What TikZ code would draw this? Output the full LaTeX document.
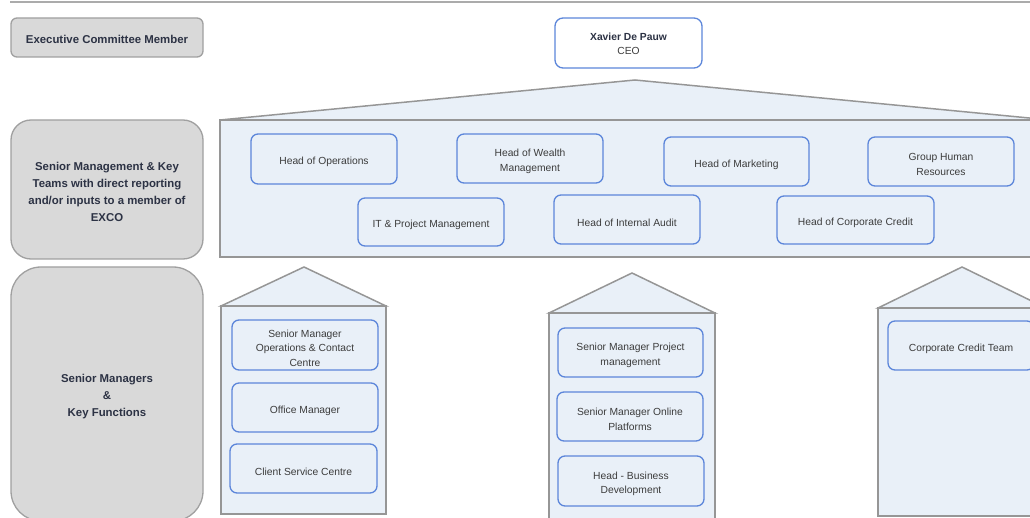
\documentclass[tikz,border=0pt]{standalone}
\usepackage{fontspec}
\setmainfont{Liberation Sans}
\definecolor{lblfill}{RGB}{217,217,217}
\definecolor{lblline}{RGB}{160,160,160}
\definecolor{lbltext}{RGB}{44,50,68}
\definecolor{panelfill}{RGB}{233,240,248}
\definecolor{panelline}{RGB}{150,150,150}
\definecolor{roleline}{RGB}{92,134,218}
\definecolor{roletext}{RGB}{60,60,60}
\begin{document}
\begin{tikzpicture}[x=1pt,y=-1pt,
  % boxes carry their caption as a centred label, set slightly low
  lbltxt/.style={text=lbltext, font=\fontsize{11.4}{17}\selectfont\bfseries,
    align=center, inner sep=0pt, yshift=-2pt},
  roletxt/.style={text=roletext, font=\fontsize{10.3}{14.5}\selectfont,
    align=center, inner sep=0pt, yshift=-3pt},
  labelbox/.style={draw=lblline, fill=lblfill, line width=1.3pt, inner sep=0pt,
    label={[lbltxt]center:#1}},
  rolebox/.style={draw=roleline, fill=panelfill, line width=1.3pt, rounded corners=7pt,
    inner sep=0pt, label={[roletxt]center:#1}},
  panel/.style={draw=panelline, fill=panelfill, line width=1.5pt, line join=miter}]
\useasboundingbox (0,0) rectangle (1030,518);
\begin{scope}
\clip (0,0) rectangle (1030,518);

% rule along the top
\draw[panelline!80, line width=1.2pt] (10,2) -- (1030,2);

% row labels
\node[labelbox={Executive Committee Member}, rounded corners=6pt,
  minimum width=192pt, minimum height=39pt] (exco) at (107,37.5) {};
\node[labelbox={Senior Management \& Key\\Teams with direct reporting\\and/or inputs to a member of\\EXCO},
  rounded corners=20pt, minimum width=192pt, minimum height=139pt] (smk) at (107,189.5) {};
\node[draw=lblline, fill=lblfill, line width=1.3pt, inner sep=0pt,
  label={[lbltxt, yshift=-1pt]center:Senior Managers\\\&\\Key Functions},
  rounded corners=30pt, minimum width=192pt, minimum height=254pt] (smkf) at (107,394) {};

% CEO
\node[draw=roleline, fill=white, line width=1.3pt, rounded corners=8pt, inner sep=0pt,
  minimum width=147pt, minimum height=50pt,
  label={[roletxt, yshift=2pt]center:{\bfseries\color{lbltext}Xavier De Pauw}\\CEO}] (ceo) at (628.5,43) {};

% senior management panel with roof
\filldraw[panel] (220,120) -- (635,80) -- (1050,120) -- cycle;
\filldraw[panel] (220,120) rectangle (1060,257);

% houses for senior managers
\filldraw[panel] (221,306) -- (304,267) -- (386,306) -- cycle;
\filldraw[panel] (221,306) rectangle (386,514);
\filldraw[panel] (549,313) -- (632,273) -- (715,313) -- cycle;
\filldraw[panel] (549,313) rectangle (715,525);
\filldraw[panel] (878,308) -- (962,267) -- (1046,308) -- cycle;
\filldraw[panel] (878,308) rectangle (1046,516);

% senior management roles
\node[rolebox={Head of Operations}, minimum width=146pt, minimum height=50pt] (ops) at (324,159) {};
\node[rolebox={Head of Wealth\\Management}, minimum width=146pt, minimum height=49pt] (wealth) at (530,158.5) {};
\node[rolebox={Head of Marketing}, minimum width=145pt, minimum height=49pt] (mkt) at (736.5,161.5) {};
\node[rolebox={Group Human\\Resources}, minimum width=146pt, minimum height=49pt] (hr) at (941,161.5) {};
\node[rolebox={IT \& Project Management}, minimum width=146pt, minimum height=48pt] (itpm) at (431,222) {};
\node[rolebox={Head of Internal Audit}, minimum width=146pt, minimum height=49pt] (audit) at (627,219.5) {};
\node[rolebox={Head of Corporate Credit}, minimum width=157pt, minimum height=48pt] (credit) at (855.5,220) {};

% senior managers and key functions
\node[rolebox={Senior Manager\\Operations \& Contact\\Centre}, minimum width=146pt, minimum height=50pt] (smops) at (305,345) {};
\node[rolebox={Office Manager}, minimum width=146pt, minimum height=49pt] (office) at (305,407.5) {};
\node[rolebox={Client Service Centre}, minimum width=147pt, minimum height=49pt] (client) at (303.5,468.5) {};
\node[rolebox={Senior Manager Project\\management}, minimum width=145pt, minimum height=49pt] (smproj) at (630.5,352.5) {};
\node[rolebox={Senior Manager Online\\Platforms}, minimum width=146pt, minimum height=49pt] (smonline) at (630,416.5) {};
\node[rolebox={Head - Business\\Development}, minimum width=146pt, minimum height=50pt] (bizdev) at (631,481) {};
\node[rolebox={Corporate Credit Team}, minimum width=146pt, minimum height=49pt] (cct) at (961,345.5) {};
\end{scope}
\end{tikzpicture}
\end{document}
